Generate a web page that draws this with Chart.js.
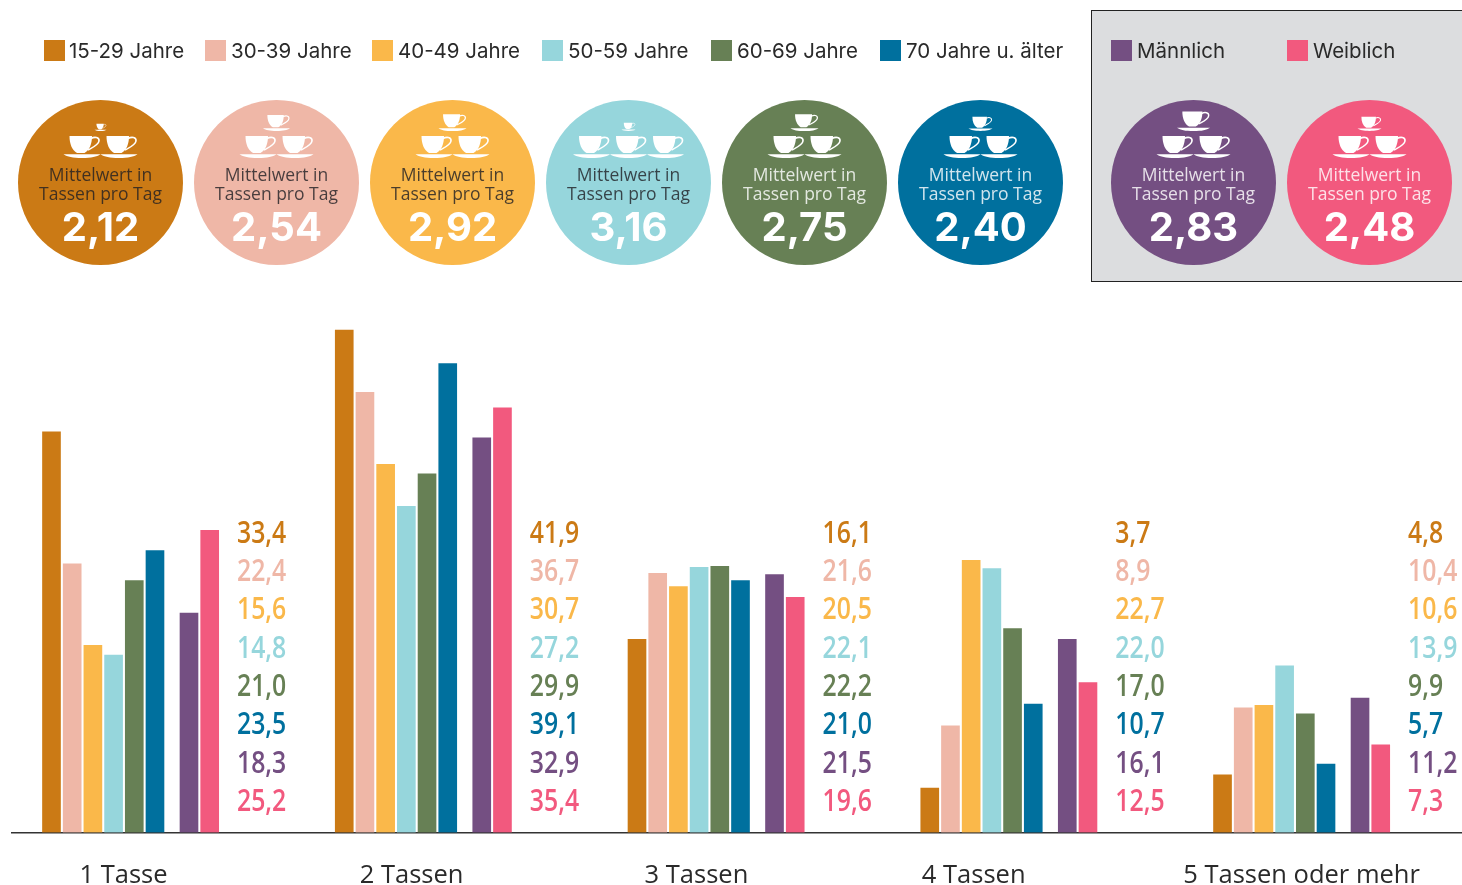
<!DOCTYPE html>
<html lang="de"><head><meta charset="utf-8"><title>Kaffeekonsum</title>
<script src="https://cdn.jsdelivr.net/npm/chart.js@4"></script>
<style>
html,body{margin:0;padding:0;background:#fff;width:1462px;height:885px;overflow:hidden;font-family:"Open Sans",sans-serif}
#chart{position:absolute;left:0;top:0}
#panel{position:absolute;left:1091px;top:10px;width:375px;height:270px;background:#dcdddf;border:1.5px solid #222;box-sizing:content-box}
.sw{position:absolute;top:40px;width:21px;height:21px}
.lg{position:absolute;top:36.5px;font-family:Inter,sans-serif;font-size:20.5px;font-weight:400;line-height:28px;color:#2a2a2a;white-space:nowrap}
.badge{position:absolute;top:100px;width:165px;height:165px;border-radius:50%}
.badge svg{position:absolute;left:0;top:0}
.bt{position:absolute;left:0;width:165px;text-align:center;white-space:nowrap}
.l1{top:63px;font-size:17.5px;line-height:22px}
.l2{top:82px;font-size:17.5px;line-height:22px}
.v{top:101px;font-family:Inter,sans-serif;font-size:40px;line-height:52px;font-weight:700;color:#fff}
</style></head><body>
<div id="panel"></div>
<canvas id="chart" width="1462" height="885"></canvas>
<div id="head"></div>
<svg width="0" height="0" style="position:absolute"><defs>
<symbol id="cup" viewBox="0 0 37 22" overflow="visible">
<path d="M6 0H28.5C28.5 8 26 14 21 17H13.5C8.5 14 6 8 6 0Z" fill="#fff"/>
<path d="M27.5 2.5C31 0.5 36 1 35.5 5C35 9 29 11.5 24.5 14" fill="none" stroke="#fff" stroke-width="1.6"/>
<path d="M0 18.3H37C33 21 28 22 18.5 22C9 22 4 21 0 18.3Z" fill="#fff"/>
</symbol></defs></svg>
<script>
const categories = ["1 Tasse","2 Tassen","3 Tassen","4 Tassen","5 Tassen oder mehr"];
const seriesNames = ["15-29 Jahre","30-39 Jahre","40-49 Jahre","50-59 Jahre","60-69 Jahre","70 Jahre u. älter","Männlich","Weiblich"];
const colors = ["#cb7a15","#efb7a7","#fab84a","#96d6dc","#678055","#00709e","#744f82","#f2597e"];
const age1529 = [33.4,41.9,16.1,3.7,4.8];
const age3039 = [22.4,36.7,21.6,8.9,10.4];
const age4049 = [15.6,30.7,20.5,22.7,10.6];
const age5059 = [14.8,27.2,22.1,22.0,13.9];
const age6069 = [21.0,29.9,22.2,17.0,9.9];
const age70 = [23.5,39.1,21.0,10.7,5.7];
const male = [18.3,32.9,21.5,16.1,11.2];
const female = [25.2,35.4,19.6,12.5,7.3];
const seriesValues = [age1529,age3039,age4049,age5059,age6069,age70,male,female];
const means = ["2,12","2,54","2,92","3,16","2,75","2,40","2,83","2,48"];
const bottomCups = [2,2,2,3,2,2,2,2];
const topCupWidth = [12,27,28,14,28,24,33,24];

/* layout, in fractions of one category step */
const seriesOffsets = [0,.0707,.1414,.2121,.2828,.3535,.4697,.5404];
const labelOffset = .6337;
const tickPositions = [.246,1.23,2.203,3.15,4.27];
const badgeLeft = [18,194,370,546,722,898,1111,1287];
const swatchLeft = [44,205,372,542,711,880,1111,1287];
const textLeft = [69,231,398,568,737,906,1137,1313];
const darkText = [true,true,true,true,false,false,false,false];

const head = document.getElementById('head');
seriesNames.forEach((n,i)=>{
  let h = `<div class="sw" style="left:${swatchLeft[i]}px;background:${colors[i]}"></div>`+
          `<div class="lg" style="left:${textLeft[i]}px">${n}</div>`;
  const c = darkText[i] ? 'rgba(30,30,35,.8)' : 'rgba(255,255,255,.82)';
  let cups = '';
  const w = 37, h0 = 22, n2 = bottomCups[i];
  for(let k=0;k<n2;k++){
    const x = 82.5 - n2*w/2 + k*w;
    cups += `<use href="#cup" x="${x}" y="36" width="${w}" height="${h0}"/>`;
  }
  const tw = topCupWidth[i], th = tw*22/37;
  cups += `<use href="#cup" x="${82.5-tw/2}" y="${31-th}" width="${tw}" height="${th}"/>`;
  h += `<div class="badge" style="left:${badgeLeft[i]}px;background:${colors[i]}">`+
       `<svg width="165" height="165">${cups}</svg>`+
       `<div class="bt l1" style="color:${c}">Mittelwert in</div>`+
       `<div class="bt l2" style="color:${c}">Tassen pro Tag</div>`+
       `<div class="bt v">${means[i]}</div></div>`;
  head.insertAdjacentHTML('beforeend',h);
});

const valueLabels = {
  id:'valueLabels',
  afterDatasetsDraw(chart){
    const {ctx,scales:{x}} = chart;
    ctx.save();
    ctx.font = '600 31px "Open Sans",sans-serif';
    ctx.textAlign='left'; ctx.textBaseline='middle';
    categories.forEach((_,g)=>{
      seriesValues.forEach((vals,s)=>{
        ctx.save();
        ctx.translate(x.getPixelForValue(g+labelOffset), 534+s*38.3);
        ctx.scale(.8,1);
        ctx.fillStyle = colors[s];
        ctx.fillText(vals[g].toFixed(1).replace('.',','), 0, 0);
        ctx.restore();
      });
    });
    ctx.restore();
  }
};

new Chart(document.getElementById('chart'),{
  type:'bar',
  data:{datasets:seriesNames.map((n,s)=>({
    label:n,
    backgroundColor:colors[s],
    barThickness:18,
    grouped:false,
    data:seriesValues[s].map((v,g)=>({x:g+seriesOffsets[s],y:v}))
  }))},
  options:{
    responsive:false,animation:false,
    layout:{padding:{left:12,right:0,top:300,bottom:0}},
    plugins:{legend:{display:false},tooltip:{enabled:false}},
    scales:{
      x:{type:'linear',offset:false,min:-.1349,max:4.818,
        grid:{display:false,drawTicks:false},
        border:{color:'#333',width:1.5},
        afterBuildTicks(a){a.ticks=tickPositions.map(v=>({value:v}));},
        afterFit(a){a.height=52.5;},
        ticks:{autoSkip:false,maxRotation:0,padding:27.5,color:'#2a2a2a',font:{family:'"Open Sans",sans-serif',size:25.5,weight:'500'},
          callback(v){return categories[tickPositions.indexOf(v)];}}
      },
      y:{display:false,min:0,max:44.4}
    }
  },
  plugins:[valueLabels]
});
</script></body></html>
